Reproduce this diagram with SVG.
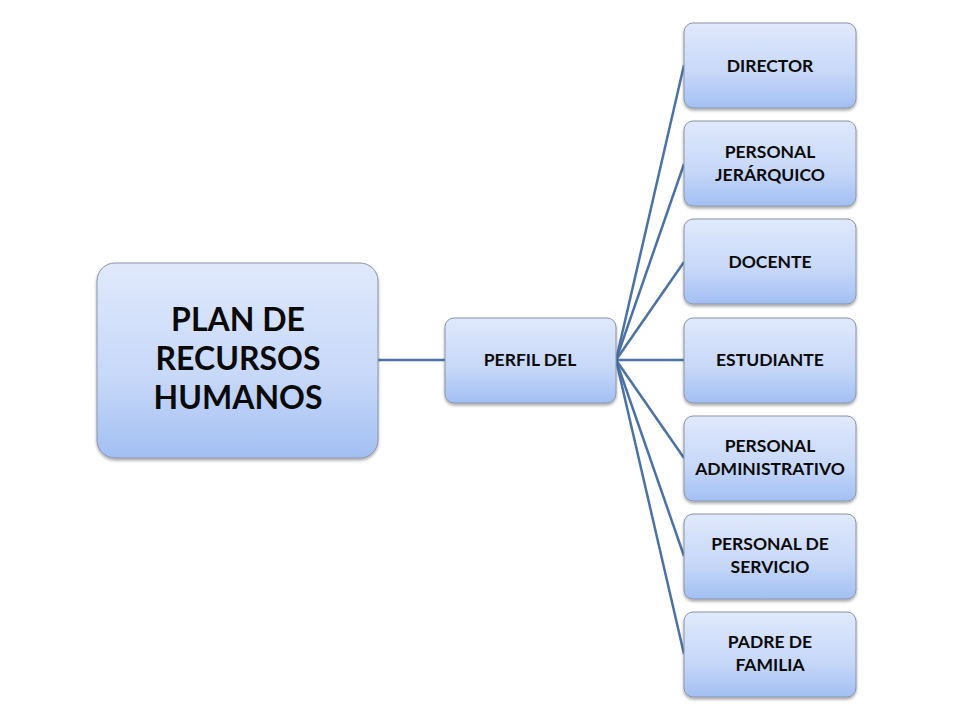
<svg xmlns="http://www.w3.org/2000/svg" width="960" height="720" viewBox="0 0 960 720">
<defs>
<linearGradient id="g" x1="0" y1="0" x2="0" y2="1">
<stop offset="0" stop-color="#e0e9fc"/>
<stop offset="0.6" stop-color="#c6d7f8"/>
<stop offset="1" stop-color="#a2bff3"/>
</linearGradient>
<filter id="sh" x="-10%" y="-10%" width="120%" height="130%">
<feGaussianBlur in="SourceAlpha" stdDeviation="1.5"/>
<feOffset dx="0" dy="2" result="b"/>
<feComponentTransfer><feFuncA type="linear" slope="0.35"/></feComponentTransfer>
<feMerge><feMergeNode/><feMergeNode in="SourceGraphic"/></feMerge>
</filter>
</defs>
<style>
.box{fill:url(#g);stroke:#8a94a6;stroke-width:1;filter:url(#sh)}
.t{font-family:Lato,"Open Sans","Liberation Sans",sans-serif;font-weight:bold;font-size:17.5px;fill:#0a0a0a;text-anchor:middle}
.big{font-size:32px}
.c{stroke:#4a72a8;stroke-width:2.5;fill:none}
</style>
<rect width="960" height="720" fill="#fff"/>
<g id="connectors">
<line class="c" x1="378" y1="360" x2="445" y2="360"/>
<line class="c" x1="616" y1="360" x2="684" y2="65"/>
<line class="c" x1="616" y1="360" x2="684" y2="164"/>
<line class="c" x1="616" y1="360" x2="684" y2="262"/>
<line class="c" x1="616" y1="360" x2="684" y2="360"/>
<line class="c" x1="616" y1="360" x2="684" y2="458"/>
<line class="c" x1="616" y1="360" x2="684" y2="556"/>
<line class="c" x1="616" y1="360" x2="684" y2="654"/>
</g>
<g id="plan">
<rect class="box" x="97" y="263" width="281" height="195" rx="18"/>
<text class="t big" x="238" y="331">PLAN DE</text>
<text class="t big" x="238" y="370">RECURSOS</text>
<text class="t big" x="238" y="409">HUMANOS</text>
</g>
<g id="perfil">
<rect class="box" x="445" y="318" width="171" height="85" rx="9"/>
<text class="t" x="530" y="366">PERFIL DEL</text>
</g>
<g id="director">
<rect class="box" x="684" y="23" width="172" height="85" rx="9"/>
<text class="t" x="770" y="72">DIRECTOR</text>
</g>
<g id="jerarquico">
<rect class="box" x="684" y="121" width="172" height="85" rx="9"/>
<text class="t" x="770" y="158">PERSONAL</text>
<text class="t" x="770" y="181">JERÁRQUICO</text>
</g>
<g id="docente">
<rect class="box" x="684" y="219" width="172" height="85" rx="9"/>
<text class="t" x="770" y="268">DOCENTE</text>
</g>
<g id="estudiante">
<rect class="box" x="684" y="318" width="172" height="85" rx="9"/>
<text class="t" x="770" y="366">ESTUDIANTE</text>
</g>
<g id="administrativo">
<rect class="box" x="684" y="416" width="172" height="85" rx="9"/>
<text class="t" x="770" y="452">PERSONAL</text>
<text class="t" x="770" y="475">ADMINISTRATIVO</text>
</g>
<g id="servicio">
<rect class="box" x="684" y="514" width="172" height="85" rx="9"/>
<text class="t" x="770" y="550">PERSONAL DE</text>
<text class="t" x="770" y="573">SERVICIO</text>
</g>
<g id="padre">
<rect class="box" x="684" y="612" width="172" height="85" rx="9"/>
<text class="t" x="770" y="648">PADRE DE</text>
<text class="t" x="770" y="671">FAMILIA</text>
</g>
</svg>
